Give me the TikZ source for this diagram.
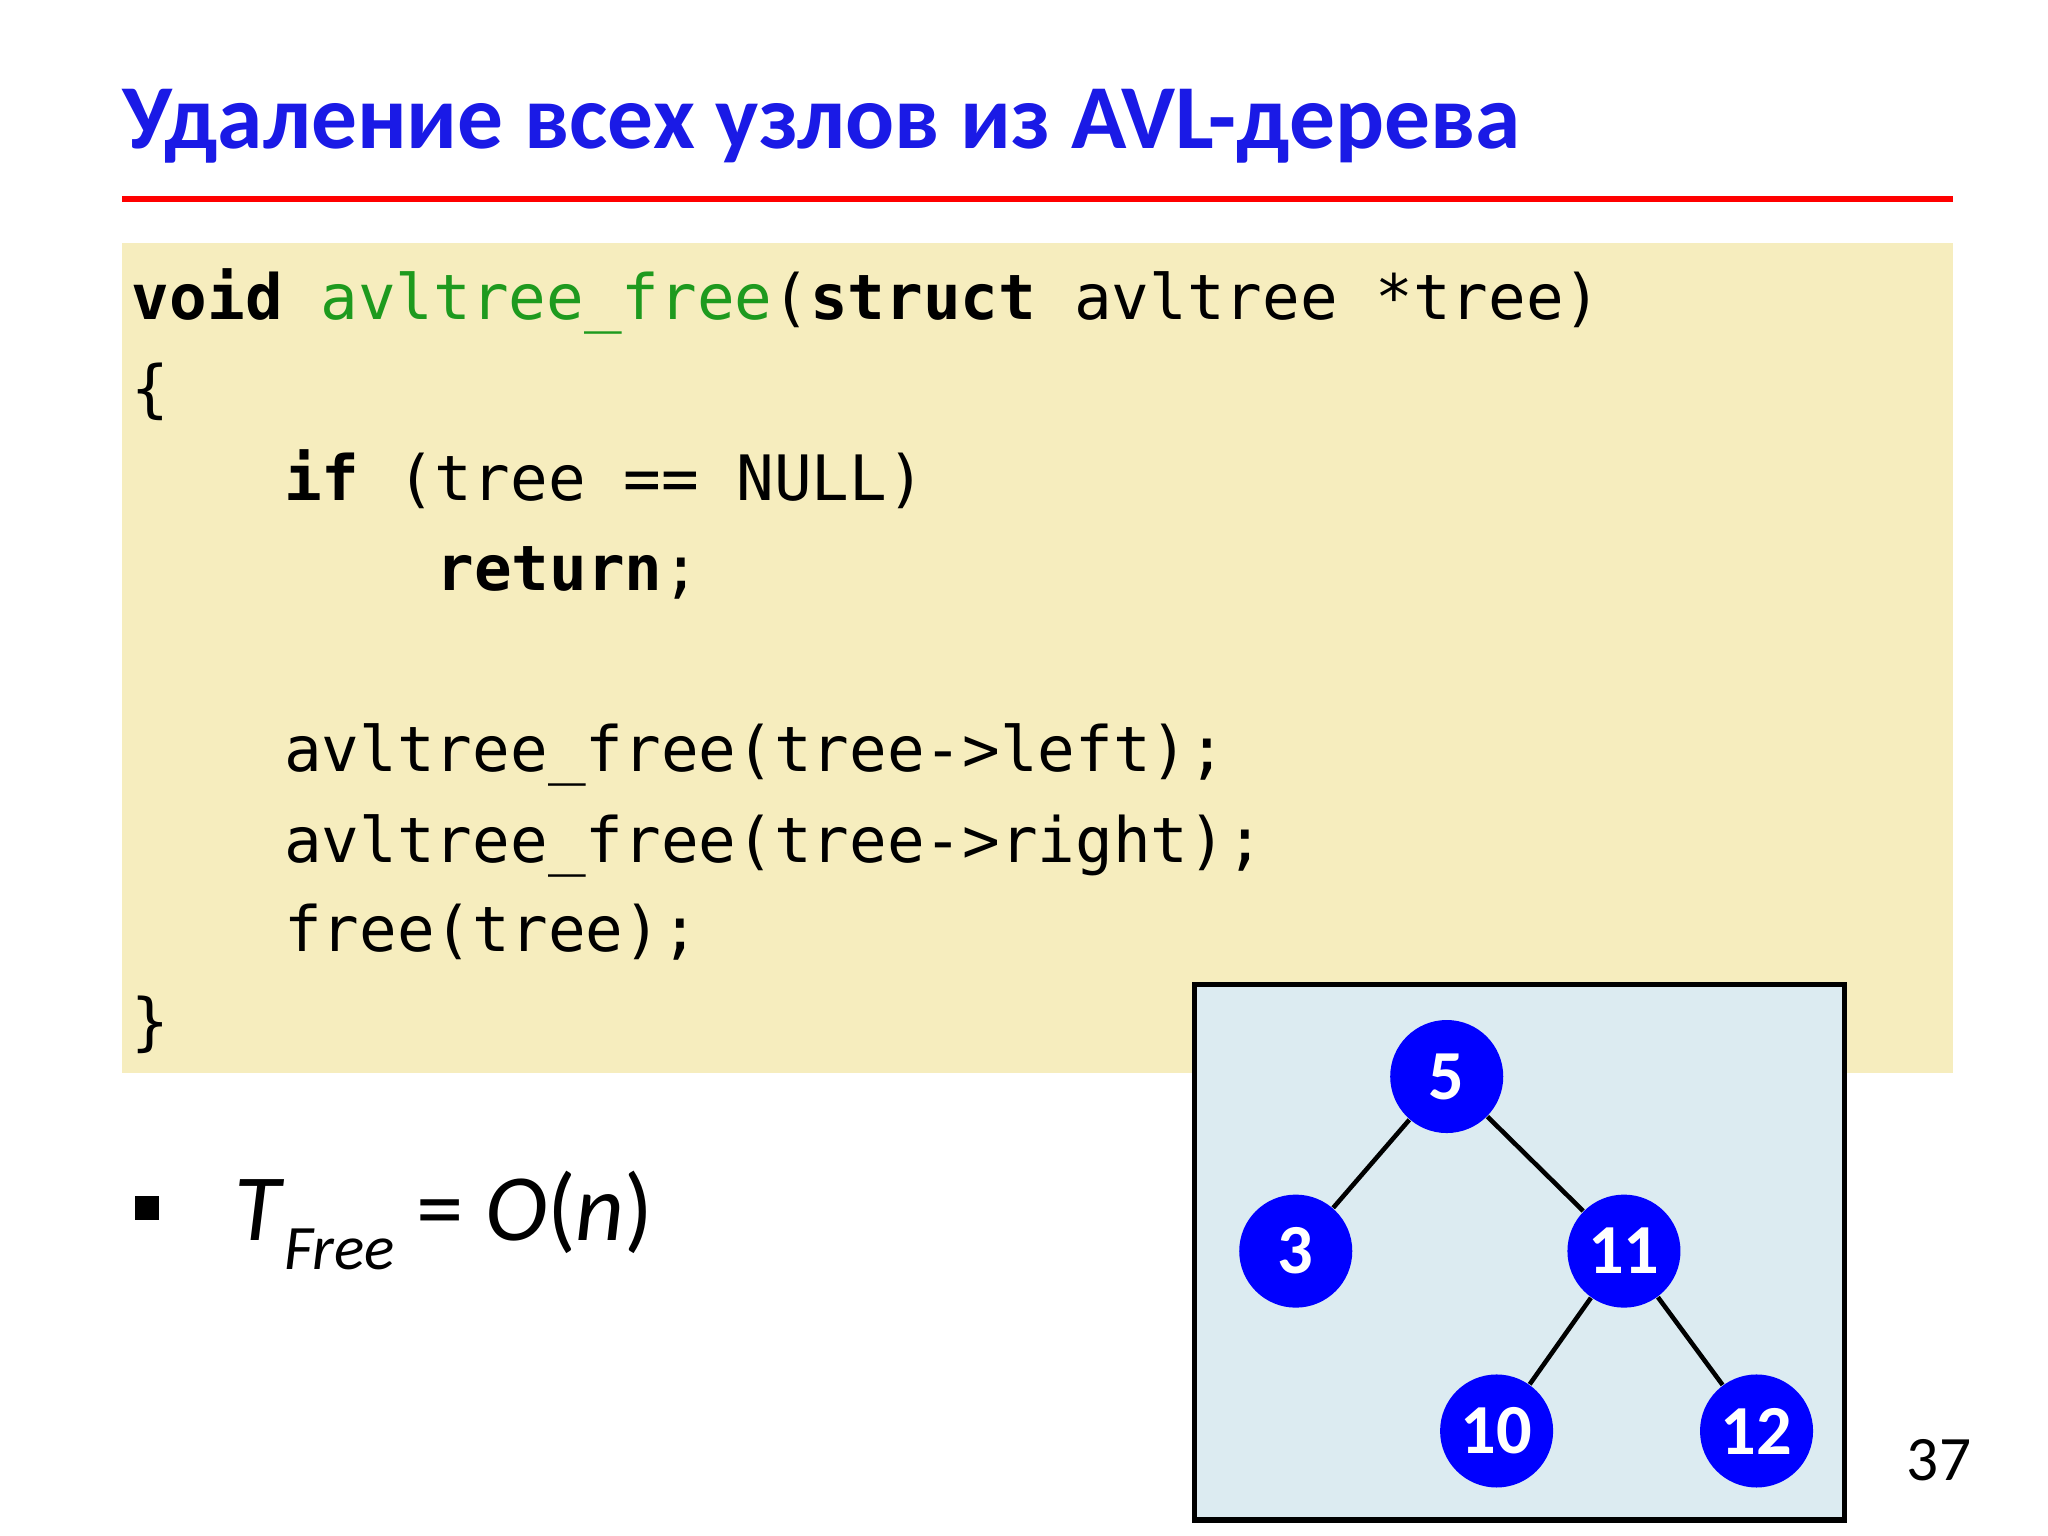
\documentclass[tikz,border=0pt]{standalone}
\usepackage{fontspec}
\setmainfont{Carlito}
\setmonofont{DejaVu Sans Mono}
\definecolor{ttl}{HTML}{1A1AE6}
\definecolor{codebg}{HTML}{F6EDBE}
\definecolor{fn}{HTML}{1E9A1E}
\definecolor{treebg}{HTML}{DCEBF1}
\begin{document}
\begin{tikzpicture}[x=0.013128cm,y=-0.013128cm,
  code/.style={anchor=base west,inner sep=0pt,font=\ttfamily\fontsize{17.8}{20}\selectfont},
  tnode/.style={circle,fill=blue,minimum size=1.13cm,inner sep=0pt,text=white,font=\bfseries\fontsize{20}{22}\selectfont},
  edge/.style={line width=1.3pt}]
\useasboundingbox (0,0) rectangle (1560,1170);
\node[anchor=base west,inner sep=0pt,text=ttl,font=\bfseries\fontsize{26}{30}\selectfont] (title) at (93,113) {Удаление всех узлов из AVL-дерева};
\fill[red] (93,149) rectangle (1488,154);
\fill[codebg] (93,185) rectangle (1488,817);
\node[code] (l1) at (100,243) {\textbf{void} \textcolor{fn}{avltree\_free}(\textbf{struct} avltree *tree)};
\node[code] (l2) at (100,313) {\{};
\node[code] (l3) at (216,381) {\textbf{if} (tree == NULL)};
\node[code] (l4) at (332,450) {\textbf{return};};
\node[code] (l5) at (216,588) {avltree\_free(tree->left);};
\node[code] (l6) at (216,657) {avltree\_free(tree->right);};
\node[code] (l7) at (216,725) {free(tree);};
\node[code] (l8) at (100,795) {\}};
\fill (103,911) rectangle (121,929);
\node[anchor=base west,inner sep=0pt,font=\fontsize{27}{30}\selectfont] (tf) at (178,945) {\textit{T}\raisebox{-0.3em}{\fontsize{18}{20}\selectfont\textit{Free}} = \textit{O}(\textit{n})};
\draw[fill=treebg,line width=1.6pt] (910,750) rectangle (1405,1158);
\node[tnode] (n5) at (1102,820) {5};
\node[tnode] (n3) at (987,953) {3};
\node[tnode] (n11) at (1237,953) {11};
\node[tnode] (n10) at (1140,1090) {10};
\node[tnode] (n12) at (1338,1090) {12};
\draw[edge] (n5) -- (n3);
\draw[edge] (n5) -- (n11);
\draw[edge] (n11) -- (n10);
\draw[edge] (n11) -- (n12);
\node[font=\fontsize{18}{20}\selectfont] (pg) at (1477,1112) {37};
\end{tikzpicture}
\end{document}
